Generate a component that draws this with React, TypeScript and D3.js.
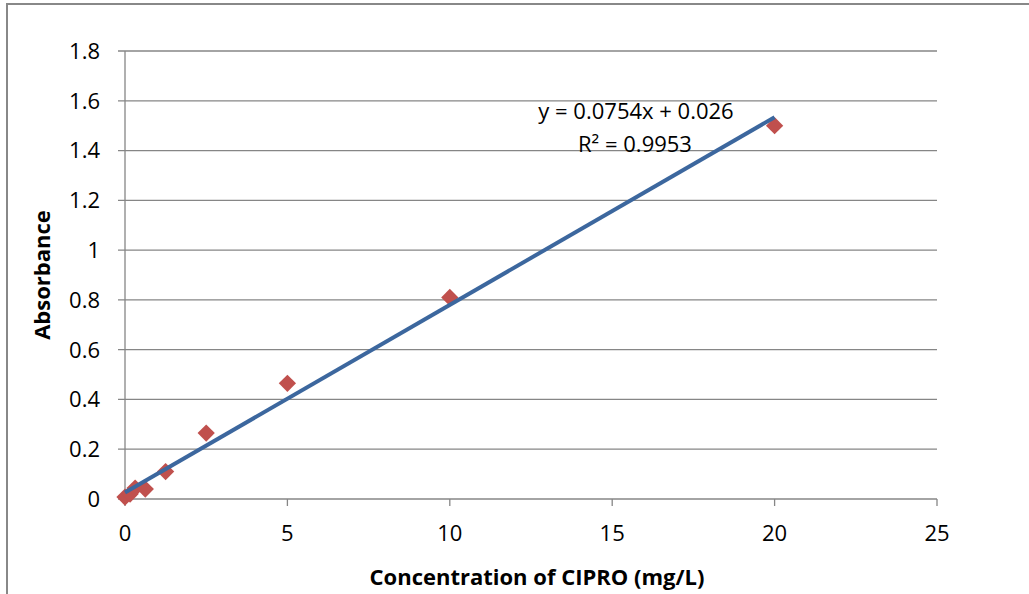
import React from "react";
import * as d3 from "d3";

const concentrations = [0, 0.156, 0.3125, 0.625, 1.25, 2.5, 5, 10, 20];
const absorbances = [0.008, 0.02, 0.044, 0.04, 0.11, 0.265, 0.465, 0.81, 1.5];
const xTicks = [0, 5, 10, 15, 20, 25];
const yTicks = [0, 0.2, 0.4, 0.6, 0.8, 1, 1.2, 1.4, 1.6, 1.8];
const slope = 0.0754;
const intercept = 0.026;
const trendRange = [0, 20];

const W = 1029;
const H = 594;
const FONT = "'Open Sans', sans-serif";
const FS = 22;

export default function App() {
  const x = d3.scaleLinear().domain([0, 25]).range([125, 937]);
  const y = d3.scaleLinear().domain([0, 1.8]).range([499, 51]);
  const grid = "#868686";
  const line = d3
    .line<number>()
    .x((d) => x(d))
    .y((d) => y(slope * d + intercept));
  const diamond = d3.symbol().type(d3.symbolDiamond2).size(190);
  return (
    <svg
      width={W}
      height={H}
      style={{ position: "absolute", left: 0, top: 0, background: "#fff" }}
    >
      <rect x={7} y={4} width={W + 10} height={H + 10} fill="#fff" stroke="#888" strokeWidth={2} />
      {yTicks.map((t) => (
        <g key={"y" + t}>
          <line x1={118} x2={937} y1={y(t)} y2={y(t)} stroke={grid} strokeWidth={1.3} />
          <text
            x={100}
            y={y(t)}
            dy="0.36em"
            textAnchor="end"
            fontFamily={FONT}
            fontSize={FS}
            fill="#000"
          >
            {String(t)}
          </text>
        </g>
      ))}
      <line x1={x(0)} x2={x(0)} y1={y(1.8)} y2={y(0)} stroke={grid} strokeWidth={1.3} />
      {xTicks.map((t) => (
        <g key={"x" + t}>
          <line x1={x(t)} x2={x(t)} y1={y(0)} y2={y(0) + 7} stroke={grid} strokeWidth={1.3} />
          <text
            x={x(t)}
            y={541}
            textAnchor="middle"
            fontFamily={FONT}
            fontSize={FS}
            fill="#000"
          >
            {String(t)}
          </text>
        </g>
      ))}
      {concentrations.map((c, i) => (
        <path
          key={"p" + i}
          d={diamond() || ""}
          transform={`translate(${x(c)},${y(absorbances[i])})`}
          fill="#C0504D"
        />
      ))}
      <path d={line(trendRange) || ""} stroke="#3C679E" strokeWidth={4} fill="none" />
      <text x={636} y={119} textAnchor="middle" fontFamily={FONT} fontSize={FS} fill="#000">
        y = 0.0754x + 0.026
      </text>
      <text x={635} y={152} textAnchor="middle" fontFamily={FONT} fontSize={FS} fill="#000">
        R² = 0.9953
      </text>
      <text
        x={537}
        y={585}
        textAnchor="middle"
        fontFamily={FONT}
        fontSize={FS}
        fontWeight="bold"
        fill="#000"
      >
        Concentration of CIPRO (mg/L)
      </text>
      <text
        transform={`translate(50,275) rotate(-90)`}
        textAnchor="middle"
        fontFamily={FONT}
        fontSize={FS}
        fontWeight="bold"
        fill="#000"
      >
        Absorbance
      </text>
    </svg>
  );
}
